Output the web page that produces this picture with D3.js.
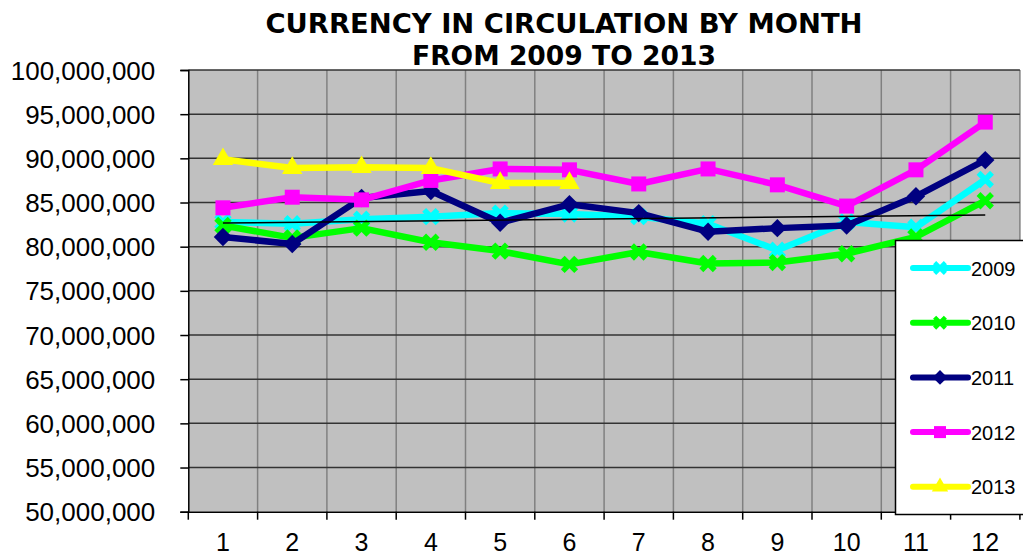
<!DOCTYPE html>
<html>
<head>
<meta charset="utf-8">
<script src="https://cdn.jsdelivr.net/npm/d3@7"></script>
<style>
  body { margin: 0; background: #fff; }
  svg { display: block; }
</style>
</head>
<body>
<div id="chart"></div>
<script>
// data
var months = [1, 2, 3, 4, 5, 6, 7, 8, 9, 10, 11, 12];
var yTicks = [50000000, 55000000, 60000000, 65000000, 70000000, 75000000,
              80000000, 85000000, 90000000, 95000000, 100000000];
var titleLines = ["CURRENCY IN CIRCULATION BY MONTH", "FROM 2009 TO 2013"];

var years = ["2009", "2010", "2011", "2012", "2013"];
var v2009 = [82.8, 82.6, 83.1, 83.4, 83.8, 83.7, 83.4, 82.6, 79.6, 82.8, 82.2, 87.6];
var v2010 = [82.4, 81.0, 82.1, 80.5, 79.5, 78.0, 79.4, 78.1, 78.2, 79.2, 81.1, 85.2];
var v2011 = [81.1, 80.3, 85.5, 86.3, 82.7, 84.8, 83.8, 81.7, 82.1, 82.4, 85.7, 89.8];
var v2012 = [84.4, 85.6, 85.3, 87.5, 88.8, 88.7, 87.1, 88.8, 87.0, 84.6, 88.7, 94.1];
var v2013 = [89.9, 88.9, 89.0, 88.9, 87.2, 87.2];
var colors = ["#00FFFF", "#00FF00", "#000080", "#FF00FF", "#FFFF00"];

var allValues = [v2009, v2010, v2011, v2012, v2013];

var W = 1023, H = 557;
var plotL = 188.3, plotR = 1019.9, plotT = 70, plotB = 511.7;

var svg = d3.select("#chart").append("svg")
    .attr("width", W)
    .attr("height", H);

var x = d3.scaleBand().domain(months).range([plotL, plotR]).padding(0);
var y = d3.scaleLinear().domain([50000000, 100000000]).range([plotB, plotT]);
function cx(m) { return x(m) + x.bandwidth() / 2; }

// plot background
svg.append("rect")
    .attr("x", plotL).attr("y", plotT)
    .attr("width", plotR - plotL).attr("height", plotB - plotT)
    .attr("fill", "#C0C0C0");

// vertical gridlines
svg.selectAll(".vgrid")
    .data(months)
    .enter()
    .append("line")
    .attr("x1", function (d) { return x(d) + x.bandwidth(); })
    .attr("x2", function (d) { return x(d) + x.bandwidth(); })
    .attr("y1", plotT).attr("y2", plotB)
    .attr("stroke", "#808080")
    .attr("stroke-width", 1.5);

// horizontal gridlines
svg.selectAll(".hgrid")
    .data(yTicks.slice(1))
    .enter()
    .append("line")
    .attr("x1", plotL).attr("x2", plotR)
    .attr("y1", function (d) { return y(d); })
    .attr("y2", function (d) { return y(d); })
    .attr("stroke", "#333")
    .attr("stroke-width", 1.5);

// y axis
var yAxis = d3.axisLeft(y)
    .tickValues(yTicks)
    .tickSize(8)
    .tickPadding(25)
    .tickFormat(d3.format(","));
var gy = svg.append("g")
    .attr("transform", "translate(" + plotL + ",0)")
    .call(yAxis);
gy.select(".domain").attr("stroke", "#000").attr("stroke-width", 1.5);
gy.selectAll(".tick line").attr("stroke", "#000").attr("stroke-width", 1.5);
gy.selectAll(".tick text")
    .attr("font-family", "'Liberation Sans', Arial, sans-serif")
    .attr("font-size", "26px")
    .attr("fill", "#000")
    .attr("dy", "0.35em");

// x axis
var xAxis = d3.axisBottom(x).tickSize(0).tickPadding(27);
var gx = svg.append("g")
    .attr("transform", "translate(0," + plotB + ")")
    .call(xAxis);
gx.select(".domain").attr("stroke", "#000").attr("stroke-width", 1.5);
gx.selectAll(".tick text")
    .attr("font-family", "'Liberation Sans', Arial, sans-serif")
    .attr("font-size", "25px")
    .attr("fill", "#000")
    .attr("dy", "0.5em");
// tick marks at category boundaries
gx.selectAll(".bt")
    .data([months[0]].concat(months))
    .enter()
    .append("line")
    .attr("x1", function (d, i) { return i == 0 ? plotL : x(d) + x.bandwidth(); })
    .attr("x2", function (d, i) { return i == 0 ? plotL : x(d) + x.bandwidth(); })
    .attr("y1", 0).attr("y2", 8)
    .attr("stroke", "#000")
    .attr("stroke-width", 1.5);

// markers
var symX = d3.symbol().type(d3.symbolX).size(120);
var markers = [
    { path: symX(), stroke: true, rot: 0 },
    { path: symX(), stroke: true, rot: 0 },
    { path: d3.symbol().type(d3.symbolSquare).size(170)(), stroke: false, rot: 45 },
    { path: d3.symbol().type(d3.symbolSquare).size(225)(), stroke: false, rot: 0 },
    { path: d3.symbol().type(d3.symbolTriangle).size(180)(), stroke: false, rot: 0 }
];

var line = d3.line()
    .x(function (d, i) { return cx(months[i]); })
    .y(function (d) { return y(d * 1000000); });

function drawMarker(g, k, px, py, scale) {
    var m = markers[k];
    g.append("path")
        .attr("d", m.path)
        .attr("transform", "translate(" + px + "," + py + ") rotate(" + m.rot + ") scale(" + scale + ")")
        .attr("fill", m.stroke ? "none" : colors[k])
        .attr("stroke", m.stroke ? colors[k] : "none")
        .attr("stroke-width", m.stroke ? 5.5 : 0);
}

allValues.forEach(function (vals, k) {
    var g = svg.append("g");
    g.append("path")
        .datum(vals)
        .attr("d", line)
        .attr("fill", "none")
        .attr("stroke", colors[k])
        .attr("stroke-width", 6.5)
        .attr("stroke-linejoin", "round");
    vals.forEach(function (v, i) {
        drawMarker(g, k, cx(months[i]), y(v * 1000000), 1);
    });
});

// linear trend of 2009
var mx = d3.mean(months), my = d3.mean(v2009);
var sxy = d3.sum(months, function (m, i) { return (m - mx) * (v2009[i] - my); });
var sxx = d3.sum(months, function (m) { return (m - mx) * (m - mx); });
var slope = sxy / sxx;
var trend = months.map(function (m) { return my + slope * (m - mx); });
svg.append("line")
    .attr("x1", cx(months[0]))
    .attr("y1", y(trend[0] * 1000000))
    .attr("x2", cx(months[months.length - 1]))
    .attr("y2", y(trend[trend.length - 1] * 1000000))
    .attr("stroke", "#000")
    .attr("stroke-width", 1.5);

// title
svg.selectAll(".title")
    .data(titleLines)
    .enter()
    .append("text")
    .attr("x", 564)
    .attr("y", function (d, i) { return 33 + i * 32; })
    .attr("text-anchor", "middle")
    .attr("font-family", "'DejaVu Sans', Verdana, sans-serif")
    .attr("font-weight", "bold")
    .attr("font-size", "26px")
    .attr("textLength", function (d, i) { return i == 0 ? 597 : 304; })
    .attr("lengthAdjust", "spacingAndGlyphs")
    .text(function (d) { return d; });

// legend
var lg = svg.append("g");
lg.append("rect")
    .attr("x", 895.5).attr("y", 240.5)
    .attr("width", 140).attr("height", 274)
    .attr("fill", "#fff")
    .attr("stroke", "#000")
    .attr("stroke-width", 1.5);
years.forEach(function (yr, k) {
    var ly = 268 + k * 54.7;
    lg.append("line")
        .attr("x1", 913).attr("x2", 968)
        .attr("y1", ly).attr("y2", ly)
        .attr("stroke", colors[k])
        .attr("stroke-width", 6)
        .attr("stroke-linecap", "round");
    drawMarker(lg, k, 940, ly, 0.8);
    lg.append("text")
        .attr("x", 971)
        .attr("y", ly + 7.5)
        .attr("font-family", "'Liberation Sans', Arial, sans-serif")
        .attr("font-size", "20px")
        .attr("fill", "#000")
        .text(yr);
});
</script>
</body>
</html>
